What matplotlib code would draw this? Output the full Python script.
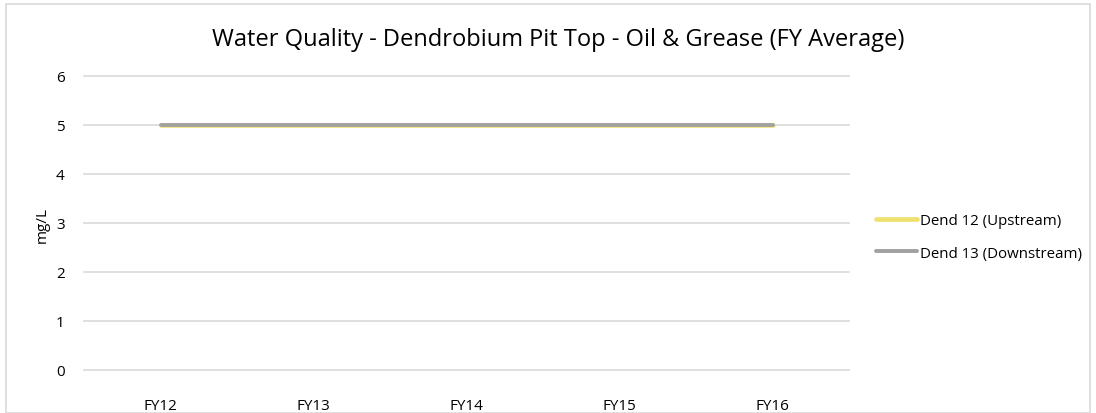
import matplotlib.pyplot as plt
from matplotlib.patches import Rectangle

# Data
years = ["FY12", "FY13", "FY14", "FY15", "FY16"]
dend12 = [5, 5, 5, 5, 5]
dend13 = [5, 5, 5, 5, 5]
series_names = ["Dend 12 (Upstream)", "Dend 13 (Downstream)"]

plt.rcParams['font.family'] = ['Open Sans', 'DejaVu Sans']

W, H = 1096, 414
fig = plt.figure(figsize=(W / 100, H / 100), dpi=100)
ax = fig.add_axes([84 / W, 1 - 371 / H, (849 - 84) / W, (371 - 77) / H])

x = range(len(years))
ax.plot(x, dend12, color="#F2E27A", lw=3.4, solid_capstyle="round", label=series_names[0], zorder=3)
ax.plot(x, dend13, color="#A2A2A0", lw=2.8, solid_capstyle="round", label=series_names[1], zorder=4)

ax.set_xlim(-0.5, len(years) - 0.5)
ax.set_ylim(0, 6)
ax.set_yticks(range(0, 7))
ax.set_xticks(list(x))
ax.set_xticklabels(years)
ax.grid(axis="y", color="#D9D9D9", lw=1.2)
for gl in ax.get_ygridlines():
    gl.set_clip_on(False)
ax.set_axisbelow(True)
for s in ax.spines.values():
    s.set_visible(False)
ax.tick_params(length=0, labelsize=11, colors="#000000", pad=0)
ax.tick_params(axis="y", pad=14)
ax.tick_params(axis="x", pad=20)

fig.text(42 / W, 1 - 225 / H, "mg/L", rotation=90, ha="center", va="center", fontsize=11)
fig.text(558 / W, 1 - 40 / H, "Water Quality - Dendrobium Pit Top - Oil & Grease (FY Average)",
         ha="center", va="center", fontsize=17)

leg = fig.legend(loc="center left", bbox_to_anchor=(876 / W, 1 - 238 / H), frameon=False,
                 fontsize=10.8, handlelength=2.7, handletextpad=0.2, labelspacing=1.15,
                 borderaxespad=0, borderpad=0)
leg.get_lines()[0].set_color("#F0E070")
leg.get_lines()[1].set_color("#A0A0A0")

fig.patches.append(Rectangle((6 / W, 0), (1090 - 6) / W, 1 - 5 / H, transform=fig.transFigure,
                             fill=False, edgecolor="#D9D9D9", lw=1.2))

fig.savefig("out.png", dpi=100)
